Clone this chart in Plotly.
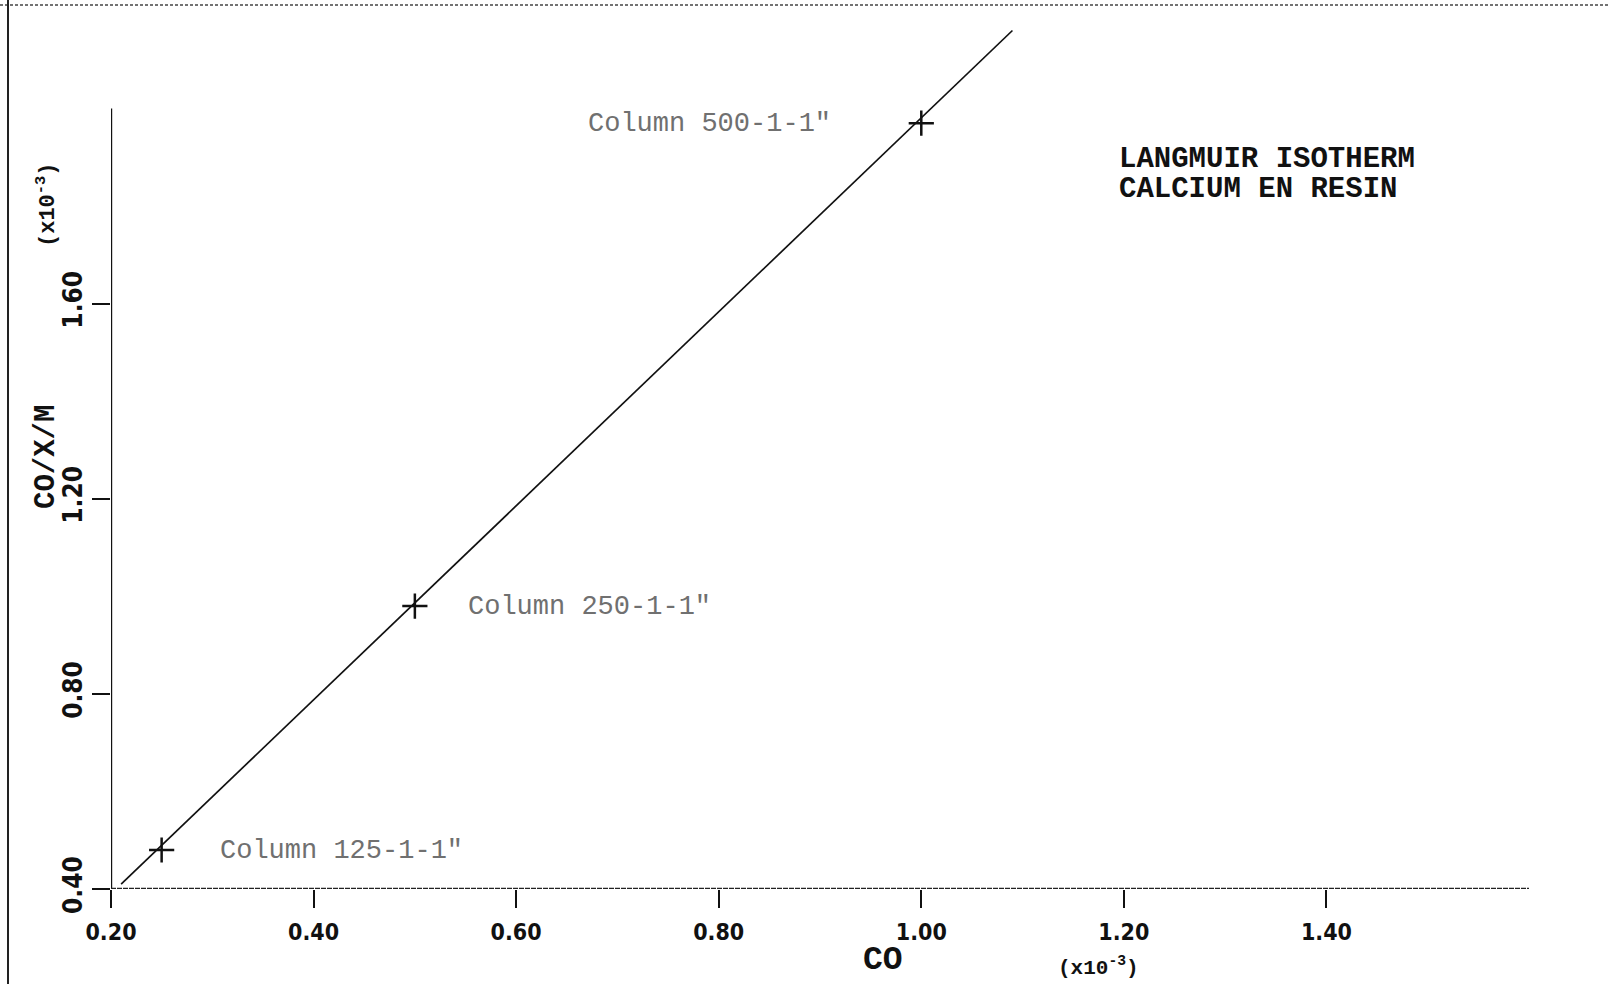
import plotly.graph_objects as go

# Measured points (CO and CO/X/M, both x10^-3)
co = [0.25, 0.50, 1.00]
co_xm = [0.48, 0.98, 1.97]
point_labels = ['Column 125-1-1"', 'Column 250-1-1"', 'Column 500-1-1"']

# Fitted straight line, end points
line_x = [0.21, 1.09]
line_y = [0.41, 2.16]

# Axis ticks
x_ticks = [0.20, 0.40, 0.60, 0.80, 1.00, 1.20, 1.40]
x_ticktext = ["0.20", "0.40", "0.60", "0.80", "1.00", "1.20", "1.40"]
y_ticks = [0.40, 0.80, 1.20, 1.60]
y_ticktext = ["0.40", "0.80", "1.20", "1.60"]

W, H = 1609, 984
ML, MR, MT, MB = 111, 80, 11, 95
PW, PH = W - ML - MR, H - MT - MB

def px(x):  # page pixel -> paper x
    return (x - ML) / PW

def py(y):  # page pixel -> paper y
    return (H - MB - y) / PH

MONO = "Liberation Mono, DejaVu Sans Mono, monospace"
NARROW = "Liberation Sans Narrow, DejaVu Sans Condensed, Liberation Mono, monospace"
INK = "#111111"

fig = go.Figure()

fig.add_trace(go.Scatter(
    x=line_x, y=line_y, mode="lines",
    line=dict(color=INK, width=1.7), hoverinfo="skip", showlegend=False,
))
fig.add_trace(go.Scatter(
    x=co, y=co_xm, mode="markers",
    marker=dict(symbol="cross-thin", size=18, line=dict(width=2.5, color=INK)),
    showlegend=False,
))

# Point labels
offsets = [(56, "left"), (51, "left"), (-88, "right")]
for xv, yv, lab, (dx, anc) in zip(co, co_xm, point_labels, offsets):
    fig.add_annotation(
        x=xv, y=yv, xref="x", yref="y", text=lab, showarrow=False,
        xanchor=anc, yanchor="middle", xshift=dx, yshift=-1,
        font=dict(family=MONO, size=27, color="#707070"),
    )

# Axis lines drawn as shapes (y axis stops at 2.0, x axis is a dotted plotter line)
fig.add_shape(type="line", xref="x", yref="y", x0=0.2, x1=0.2, y0=0.4, y1=2.0,
              line=dict(color=INK, width=2.4))
fig.add_shape(type="line", xref="x", yref="y", x0=0.2, x1=1.6, y0=0.4, y1=0.4,
              line=dict(color="#222222", width=2.4, dash="5px,1px"))

# Page frame of the plotter sheet
fig.add_shape(type="line", xref="paper", yref="paper", x0=px(0), x1=px(W), y0=py(5), y1=py(5),
              line=dict(color="#444444", width=1.5, dash="3px,2px"))
fig.add_shape(type="line", xref="paper", yref="paper", x0=px(8), x1=px(8), y0=py(0), y1=py(H),
              line=dict(color="#222222", width=2))

# Title block
for text, yc in [("LANGMUIR ISOTHERM", 159), ("CALCIUM EN RESIN", 190)]:
    fig.add_annotation(
        x=px(1117), y=py(yc), xref="paper", yref="paper", showarrow=False,
        xanchor="left", yanchor="middle", text=text,
        font=dict(family=MONO, size=29, color=INK, weight="bold"),
    )

# Axis titles
fig.add_annotation(
    x=px(883), y=py(961), xref="paper", yref="paper", showarrow=False,
    xanchor="center", yanchor="middle",
    text="CO", font=dict(family=MONO, size=33, color=INK, weight="bold"),
)
fig.add_annotation(
    x=px(1098), y=py(966), xref="paper", yref="paper", showarrow=False,
    xanchor="center", yanchor="middle",
    text="(x10<sup>-3</sup>)", font=dict(family=MONO, size=21, color=INK, weight="bold"),
)
fig.add_annotation(
    x=px(46), y=py(457), xref="paper", yref="paper", showarrow=False,
    xanchor="center", yanchor="middle",
    text="CO/X/M", textangle=-90, font=dict(family=MONO, size=29, color=INK, weight="bold"),
)
fig.add_annotation(
    x=px(46), y=py(205), xref="paper", yref="paper", showarrow=False,
    xanchor="center", yanchor="middle",
    text="(x10<sup>-3</sup>)", textangle=-90,
    font=dict(family=MONO, size=22, color=INK, weight="bold"),
)

fig.update_xaxes(
    range=[0.2, 1.6], tickvals=x_ticks, ticktext=x_ticktext,
    ticks="outside", ticklen=18, tickwidth=2.4, tickcolor=INK,
    showline=False, showgrid=False, zeroline=False, ticklabelstandoff=4,
    tickfont=dict(family=NARROW, size=23, color=INK, weight="bold"),
)
fig.update_yaxes(
    range=[0.4, 2.2], tickvals=y_ticks, ticktext=y_ticktext,
    ticks="outside", ticklen=18, tickwidth=2.4, tickcolor=INK, tickangle=-90,
    showline=False, showgrid=False, zeroline=False,
    tickfont=dict(family=NARROW, size=26, color=INK, weight="bold"),
)

fig.update_layout(
    width=W, height=H,
    margin=dict(l=ML, r=MR, t=MT, b=MB),
    paper_bgcolor="white", plot_bgcolor="white",
    showlegend=False,
)

fig.write_html("out.html")
